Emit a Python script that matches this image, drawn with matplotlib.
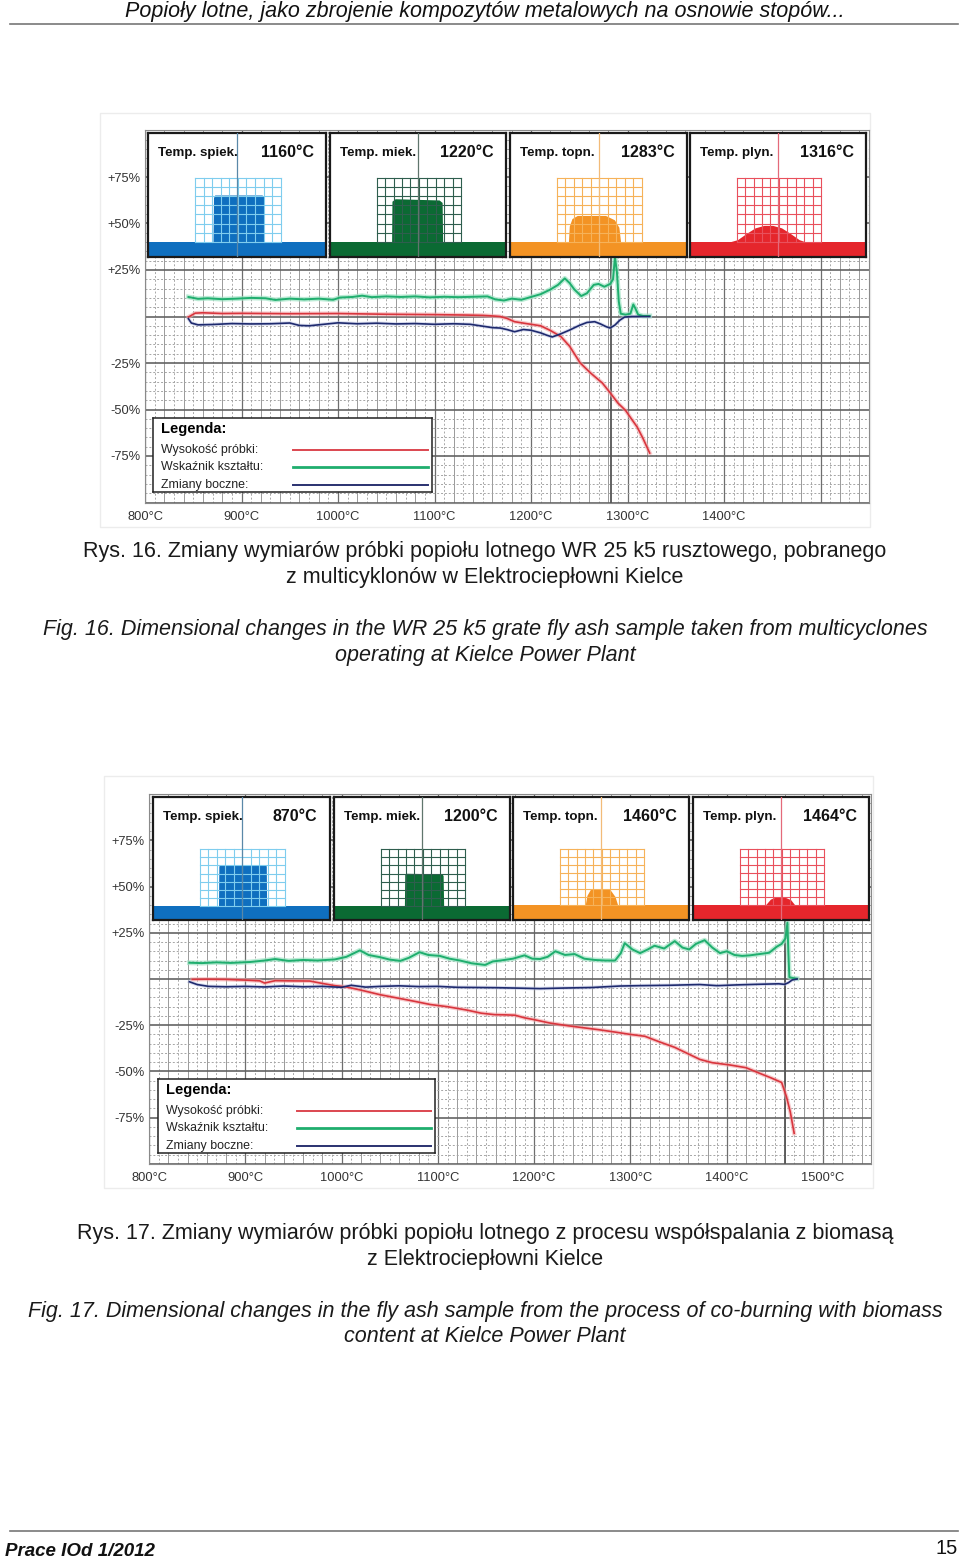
import numpy as np
import matplotlib.pyplot as plt
from matplotlib.patches import Rectangle

# ---------------- data ----------------
# Fig. 16  (temperature in degC, change in %)
f16_height_t = [845, 852, 860, 880, 900, 950, 1000, 1050, 1100, 1130, 1150, 1160, 1168, 1175,
                1183, 1195, 1210, 1220, 1231, 1240, 1251, 1262, 1274, 1282, 1290, 1298, 1304,
                1310, 1316, 1323]
f16_height_v = [-0.3, 1.8, 2.0, 1.6, 1.7, 1.5, 1.6, 1.2, 1.0, 0.8, 0.6, 0.3, 0.0, -1.0,
                -2.8, -3.8, -5.0, -7.5, -10.8, -16.0, -25.0, -30.5, -35.8, -41.0, -46.5, -50.5, -55.0,
                -59.4, -65.5, -73.4]
f16_shape_t = [845, 855, 865, 880, 895, 910, 925, 935, 950, 965, 980, 995, 1002, 1015, 1025,
               1035, 1050, 1065, 1080, 1095, 1110, 1125, 1140, 1155, 1163, 1172, 1180, 1190,
               1200, 1210, 1220, 1228, 1235, 1240, 1245, 1252, 1258, 1265, 1270, 1276, 1282,
               1285, 1287, 1289, 1291, 1293, 1298, 1303, 1306, 1308, 1311, 1316, 1323]
f16_shape_v = [10.5, 9.5, 9.8, 9.3, 9.6, 10.0, 9.8, 8.9, 9.6, 9.2, 9.6, 9.0, 10.2, 10.5, 11.2,
               10.4, 10.8, 10.5, 10.8, 10.3, 10.6, 10.4, 10.6, 10.8, 9.2, 8.6, 9.6, 9.0,
               10.5, 12.0, 14.5, 17.0, 20.5, 18.0, 14.5, 11.0, 12.5, 17.0, 17.5, 16.0, 17.5,
               20.0, 32.0, 24.0, 8.0, 1.5, 1.0, 1.5, 6.5, 4.5, 1.0, 0.3, 0.3]
f16_side_t = [845, 848, 855, 870, 890, 910, 930, 950, 960, 970, 985, 1000, 1020, 1040, 1060,
              1080, 1100, 1120, 1137, 1150, 1160, 1168, 1175, 1183, 1192, 1200, 1210, 1216,
              1222, 1230, 1240, 1250, 1258, 1266, 1272, 1278, 1282, 1287, 1292, 1297, 1305, 1323]
f16_side_v = [-1.2, -3.5, -4.5, -4.3, -3.8, -4.0, -3.9, -3.5, -4.8, -5.0, -4.2, -3.4, -3.9, -3.6, -4.0,
              -3.8, -4.2, -3.9, -4.2, -5.2, -6.0, -6.2, -7.0, -8.2, -7.0, -7.4, -8.8, -10.0,
              -11.0, -9.5, -7.3, -4.8, -3.2, -2.8, -4.0, -5.5, -6.2, -4.6, -2.0, -0.3, 0.0, 0.0]

# Fig. 17
f17_height_t = [845, 860, 879, 900, 915, 920, 925, 931, 945, 967, 980, 993, 1005, 1020, 1040,
                1060, 1075, 1092, 1110, 1130, 1145, 1159, 1170, 1180, 1190, 1200, 1216, 1235,
                1250, 1268, 1285, 1300, 1315, 1330, 1346, 1360, 1372, 1385, 1403, 1420, 1434,
                1446, 1457, 1462, 1466, 1470]
f17_height_v = [-0.2, -0.1, -0.2, -0.6, -1.0, -2.2, -1.6, -0.9, -1.0, -1.1, -2.4, -3.6, -4.3, -6.0, -8.5,
                -10.5, -12.0, -13.8, -15.0, -16.8, -18.5, -19.3, -19.4, -19.6, -21.0, -22.0, -23.8, -25.3,
                -26.3, -27.5, -28.8, -30.0, -31.0, -34.0, -37.0, -40.5, -43.5, -45.3, -46.5, -48.0, -51.0,
                -53.5, -56.0, -63.7, -72.0, -83.5]
f17_shape_t = [842, 855, 870, 885, 905, 920, 931, 945, 960, 975, 993, 1005, 1019, 1028, 1040,
               1050, 1061, 1070, 1081, 1090, 1102, 1112, 1123, 1135, 1149, 1157, 1165, 1178,
               1190, 1198, 1206, 1214, 1222, 1232, 1242, 1252, 1263, 1274, 1284, 1290, 1294,
               1302, 1310, 1318, 1325, 1335, 1346, 1354, 1361, 1368, 1377, 1385, 1393, 1400,
               1408, 1416, 1424, 1434, 1444, 1452, 1457, 1461, 1463, 1464, 1465, 1469, 1473]
f17_shape_v = [8.8, 8.6, 9.0, 8.7, 9.2, 10.0, 10.8, 9.8, 10.3, 10.0, 10.6, 12.0, 15.5, 13.0, 11.8,
               10.5, 9.8, 11.5, 14.5, 13.0, 12.5, 11.0, 10.0, 8.5, 7.6, 9.5, 10.0, 11.0,
               12.8, 11.0, 10.8, 12.0, 15.0, 13.0, 13.5, 11.0, 10.3, 10.0, 10.0, 14.0, 19.4,
               16.0, 14.0, 16.0, 18.0, 16.5, 20.5, 17.0, 16.0, 19.0, 21.0, 17.0, 14.0, 15.0,
               13.0, 12.5, 12.8, 13.5, 14.2, 17.5, 19.0, 22.0, 30.5, 14.0, 1.0, 0.5, 0.2]
f17_side_t = [842, 850, 862, 880, 900, 920, 940, 960, 980, 1000, 1010, 1025, 1040, 1060, 1080,
              1100, 1120, 1140, 1160, 1180, 1206, 1230, 1260, 1289, 1310, 1340, 1372, 1390,
              1410, 1430, 1454, 1460, 1464, 1468, 1473]
f17_side_v = [-1.5, -3.0, -4.0, -4.2, -4.0, -4.3, -3.8, -4.2, -4.0, -4.5, -3.4, -4.4, -4.0, -3.7, -4.1,
              -4.0, -4.5, -4.6, -4.7, -4.9, -5.2, -4.9, -4.6, -3.8, -3.6, -3.4, -3.0, -3.6,
              -3.2, -2.9, -2.6, -2.9, -2.0, -0.5, 0.0]

y_ticks = [75, 50, 25, -25, -50, -75]
y_labels = ['+75%', '+50%', '+25%', '-25%', '-50%', '-75%']
f16_x_ticks = [800, 900, 1000, 1100, 1200, 1300, 1400]
f17_x_ticks = [800, 900, 1000, 1100, 1200, 1300, 1400, 1500]

panel_names = ['Temp. spiek.', 'Temp. miek.', 'Temp. topn.', 'Temp. plyn.']
f16_temps = ['1160°C', '1220°C', '1283°C', '1316°C']
f17_temps = ['870°C', '1200°C', '1460°C', '1464°C']

# silhouettes of the sample in each panel (fraction of panel width / height)
f16_sil_x = [[0.365, 0.368, 0.375, 0.64, 0.65, 0.652],
             [0.35, 0.352, 0.37, 0.62, 0.637, 0.64],
             [0.33, 0.335, 0.35, 0.38, 0.54, 0.59, 0.615, 0.625],
             [0.22, 0.27, 0.32, 0.37, 0.42, 0.47, 0.52, 0.57, 0.62, 0.66]]
f16_sil_y = [[0.12, 0.48, 0.50, 0.50, 0.49, 0.12],
             [0.12, 0.45, 0.47, 0.46, 0.44, 0.12],
             [0.12, 0.25, 0.31, 0.335, 0.335, 0.30, 0.24, 0.12],
             [0.12, 0.14, 0.19, 0.235, 0.255, 0.255, 0.235, 0.19, 0.14, 0.12]]
f17_sil_x = [[0.37, 0.372, 0.38, 0.635, 0.64, 0.642],
             [0.40, 0.402, 0.41, 0.615, 0.62, 0.623],
             [0.41, 0.42, 0.44, 0.55, 0.58, 0.595],
             [0.41, 0.44, 0.47, 0.52, 0.555, 0.58]]
f17_sil_y = [[0.115, 0.44, 0.447, 0.445, 0.44, 0.115],
             [0.115, 0.37, 0.38, 0.375, 0.36, 0.115],
             [0.12, 0.20, 0.25, 0.25, 0.19, 0.12],
             [0.12, 0.17, 0.187, 0.187, 0.165, 0.12]]

W, H = 960, 1560
fig = plt.figure(figsize=(9.6, 15.6), dpi=100)

SANS = ['Liberation Sans', 'DejaVu Sans']


def px_axes(x0, y0, x1, y1, z=1):
    return fig.add_axes([x0 / W, 1 - y1 / H, (x1 - x0) / W, (y1 - y0) / H], zorder=z)


def ftext(x, y, s, **kw):
    fig.text(x / W, 1 - y / H, s, **kw)


panel_cols = ['#0f6fbf', '#0b6a33', '#f39324', '#e5262c']
grid_cols = ['#7fcdee', '#2f5e4e', '#f6b259', '#e9505c']
line_cols = ['#5a88a8', '#60766d', '#f2bb78', '#e46a7a']


def draw_chart(box, x_ticks, temps, sil_x, sil_y, gtop, panels, cursor_t, legend_box,
               height, shape, side):
    ax = px_axes(*box)
    ax.set_xlim(800, 1550)
    ax.set_ylim(-100, 100)
    # grid
    for t in range(800, 1551, 10):
        if t % 100 == 0:
            ax.axvline(t, color='#6e6e6e', lw=0.9, zorder=0)
        elif t % 20 == 0:
            ax.axvline(t, color='#9a9a9a', lw=0.7, zorder=0)
        else:
            ax.axvline(t, color='#a8a8a8', lw=0.7, ls=(0, (2, 2)), zorder=0)
    for v in range(-100, 101, 5):
        if v % 25 == 0:
            ax.axhline(v, color='#636363', lw=1.2, zorder=0)
        else:
            ax.axhline(v, color='#a5a5a5', lw=0.7, ls=(0, (2, 2)), zorder=0)
    ax.axvline(cursor_t, ymax=0.66, color='#555555', lw=1.3, zorder=1)
    for s in ax.spines.values():
        s.set_color('#8a8a8a')
    ax.set_yticks(y_ticks, y_labels)
    ax.set_xticks(x_ticks, [f'{t}°C' for t in x_ticks])
    ax.tick_params(length=0, labelsize=9.3, labelcolor='#333333', pad=3)
    for lab in ax.get_xticklabels() + ax.get_yticklabels():
        lab.set_family(SANS)
    ax.tick_params(axis='x', pad=6)

    # curves with a light halo
    ax.plot(height[0], height[1], color='#f2a7aa', lw=3, alpha=0.6, zorder=2)
    ax.plot(height[0], height[1], color='#d9353d', lw=1.2, zorder=3)
    ax.plot(shape[0], shape[1], color='#9fe3c4', lw=3.5, alpha=0.7, zorder=2)
    ax.plot(shape[0], shape[1], color='#1fae6e', lw=1.4, zorder=3)
    ax.plot(side[0], side[1], color='#b6bde0', lw=2.6, alpha=0.5, zorder=2)
    ax.plot(side[0], side[1], color='#1e2a6e', lw=1.2, zorder=3)

    # image panels on top
    for i, (x0, y0, x1, y1) in enumerate(panels):
        pa = px_axes(x0, y0, x1, y1, z=3)
        pa.set_xlim(0, 1)
        pa.set_ylim(0, 1)
        pa.set_xticks([])
        pa.set_yticks([])
        pa.set_facecolor('white')
        for s in pa.spines.values():
            s.set_color('#1a1a1a')
            s.set_linewidth(1.6)
        base = sil_y[i][0]
        pa.add_patch(Rectangle((0, 0), 1, base, color=panel_cols[i], lw=0, zorder=1))
        pa.fill_between(sil_x[i], base, sil_y[i], color=panel_cols[i], lw=0, zorder=1)
        gx0, gx1 = 0.265, 0.745
        for gx in np.linspace(gx0, gx1, 11):
            pa.plot([gx, gx], [base, gtop], color=grid_cols[i], lw=0.8, zorder=2)
        for gy in np.linspace(base, gtop, 8):
            pa.plot([gx0, gx1], [gy, gy], color=grid_cols[i], lw=0.8, zorder=2)
        pa.axvline(0.5, color=line_cols[i], lw=0.9, zorder=3)
        pa.text(0.055, 0.835, panel_names[i], fontsize=9.6, fontweight='semibold',
                family=SANS, color='#111111', va='center', ha='left')
        pa.text(0.93, 0.845, temps[i], fontsize=11.5, fontweight='bold',
                family=SANS, color='#111111', va='center', ha='right')

    # legend box
    la = px_axes(*legend_box, z=3)
    la.set_xlim(0, 1)
    la.set_ylim(0, 1)
    la.set_xticks([])
    la.set_yticks([])
    for s in la.spines.values():
        s.set_color('#222222')
        s.set_linewidth(1.1)
    la.text(0.03, 0.85, 'Legenda:', fontsize=10.5, fontweight='bold', family=SANS, va='center')
    names = ['Wysokość próbki:', 'Wskaźnik kształtu:', 'Zmiany boczne:']
    cols = ['#dc4650', '#1fae6e', '#2a3170']
    for k, (nm, c) in enumerate(zip(names, cols)):
        yy = 0.57 - k * 0.235
        la.text(0.03, yy, nm, fontsize=8.9, family=SANS, color='#222222', va='center')
        la.plot([0.5, 0.985], [yy, yy], color=c, lw=1.4 if k != 1 else 2.0)


# Fig. 16
fig.add_artist(Rectangle((100 / W, 1 - 527 / H), 770 / W, 414 / H, transform=fig.transFigure,
                         fill=False, ec='#ececec', lw=1))
draw_chart((145, 130.5, 868.75, 502.5), f16_x_ticks, f16_temps, f16_sil_x, f16_sil_y, 0.64,
           [(148, 133, 326, 257), (330, 133, 506, 257), (510, 133, 687, 257), (690, 133, 866, 257)],
           1283, (153, 418, 432, 492),
           (f16_height_t, f16_height_v), (f16_shape_t, f16_shape_v), (f16_side_t, f16_side_v))

# Fig. 17
fig.add_artist(Rectangle((104 / W, 1 - 1188 / H), 769 / W, 412 / H, transform=fig.transFigure,
                         fill=False, ec='#ececec', lw=1))
draw_chart((149, 794.2, 871.2, 1163.8), f17_x_ticks, f17_temps, f17_sil_x, f17_sil_y, 0.575,
           [(153, 797, 330, 920), (334, 797, 510, 920), (513, 797, 689, 920), (693, 797, 869, 920)],
           1460, (158, 1079, 435, 1153),
           (f17_height_t, f17_height_v), (f17_shape_t, f17_shape_v), (f17_side_t, f17_side_v))

# page text
ftext(485, 11, 'Popioły lotne, jako zbrojenie kompozytów metalowych na osnowie stopów...',
      fontsize=15.5, style='italic', family=SANS, ha='center', va='center', color='#111111')
fig.add_artist(plt.Line2D([10 / W, 958 / W], [1 - 24 / H, 1 - 24 / H], color='#777777', lw=1.2))
fig.add_artist(plt.Line2D([10 / W, 958 / W], [1 - 1531 / H, 1 - 1531 / H], color='#777777', lw=1.2))
ftext(5, 1552, 'Prace IOd 1/2012', fontsize=13.5, style='italic', fontweight='bold',
      family=SANS, ha='left', va='center', color='#111111')
ftext(958, 1549, '15', fontsize=14.5, family=SANS, ha='right', va='center', color='#111111')

cap = dict(fontsize=15.5, family=SANS, ha='center', va='center', color='#1a1a1a')
ftext(485, 551, 'Rys. 16. Zmiany wymiarów próbki popiołu lotnego WR 25 k5 rusztowego, pobranego', **cap)
ftext(485, 577, 'z multicyklonów w Elektrociepłowni Kielce', **cap)
ftext(485, 629, 'Fig. 16. Dimensional changes in the WR 25 k5 grate fly ash sample taken from multicyclones',
      style='italic', **cap)
ftext(485, 655, 'operating at Kielce Power Plant', style='italic', **cap)
ftext(485, 1233, 'Rys. 17. Zmiany wymiarów próbki popiołu lotnego z procesu współspalania z biomasą', **cap)
ftext(485, 1259, 'z Elektrociepłowni Kielce', **cap)
ftext(485, 1311, 'Fig. 17. Dimensional changes in the fly ash sample from the process of co-burning with biomass',
      style='italic', **cap)
ftext(485, 1337, 'content at Kielce Power Plant', style='italic', **cap)

fig.savefig('out.png', dpi=100)
